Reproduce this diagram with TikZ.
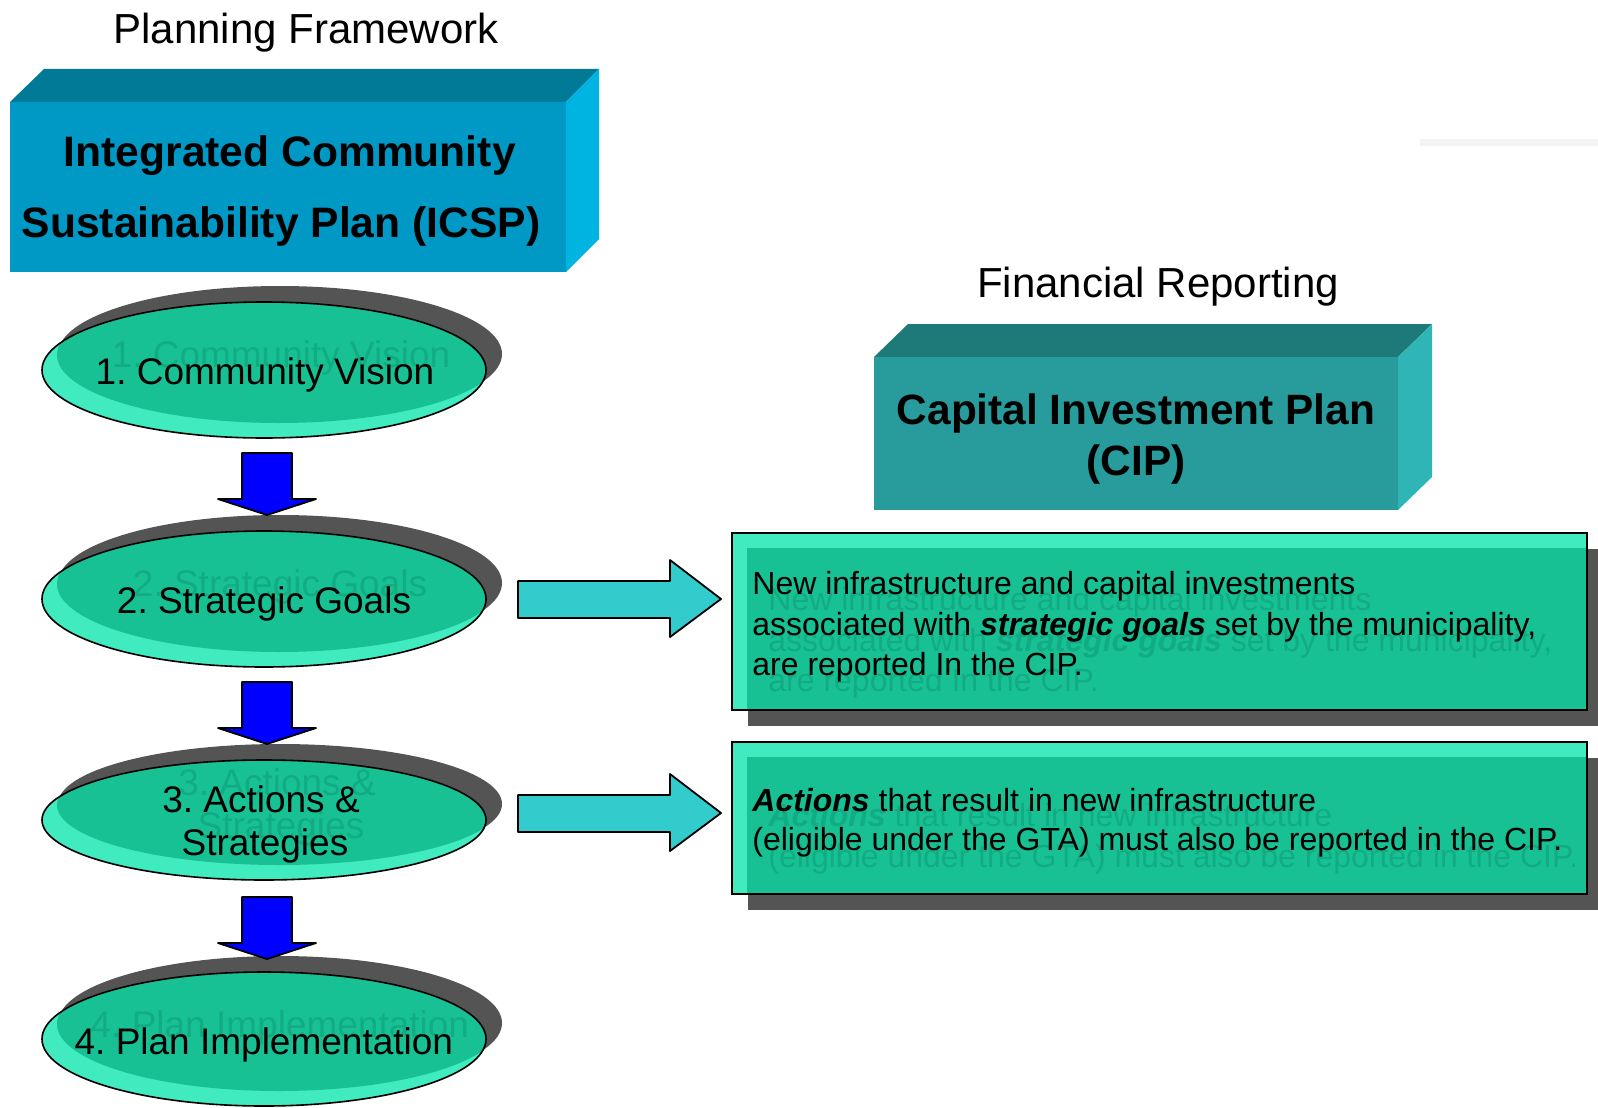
\documentclass[tikz,border=0pt]{standalone}
\usepackage{fontspec}
\setmainfont{Liberation Sans}
\usetikzlibrary{calc}
\usetikzlibrary{positioning}

\definecolor{icspfront}{HTML}{0099C6}
\definecolor{icsptop}{HTML}{007A96}
\definecolor{icspside}{HTML}{00B4E1}
\definecolor{cipfront}{HTML}{289C9C}
\definecolor{ciptop}{HTML}{1E7A78}
\definecolor{cipside}{HTML}{2FB5B5}
\definecolor{mint}{HTML}{40EBC0}
\definecolor{sea}{HTML}{17C193}
\definecolor{ghost}{HTML}{12AC84}
\definecolor{shadowgray}{HTML}{545454}
\definecolor{aqua}{HTML}{33CCCC}
\definecolor{faintline}{HTML}{F3F3F3}

\frenchspacing

\newcommand{\goalstext}{New infrastructure and capital investments\\associated with \textbf{\textit{strategic goals}} set by the municipality,\\are reported In the CIP.}
\newcommand{\actionstext}{\textbf{\textit{Actions}} that result in new infrastructure\\(eligible under the GTA) must also be reported in the CIP.}

\begin{document}
\begin{tikzpicture}[
    x=0.5pt, y=-0.5pt,
    % styles
    title/.style={font=\fontsize{21}{25}\selectfont, inner sep=0pt},
    heading/.style={font=\fontsize{21.3}{35.5}\selectfont\bfseries, align=center, inner sep=0pt},
    stage/.style={font=\fontsize{18.5}{21.5}\selectfont, align=center, inner sep=0pt},
    note/.style={font=\fontsize{16}{20.3}\selectfont, align=left, anchor=west, inner sep=0pt},
    outline/.style={draw=black, line width=0.8pt},
    blockarrow/.style={draw=black, line width=0.9pt, line join=round}]

    \useasboundingbox (0,0) rectangle (1598,1107);

    % titles
    \node [title] (planning) at (306,33) {Planning Framework};
    \node [title] (financial) at (1158,287) {Financial Reporting};
    \fill [faintline] (1420,139) rectangle (1598,146);

    % ICSP block
    \fill [icsptop] (10,102) -- (44,69) -- (599,69) -- (566,102) -- cycle;
    \fill [icspside] (566,102) -- (599,69) -- (599,239) -- (566,272) -- cycle;
    \fill [icspfront] (10,102) rectangle (566,272);
    \node [heading] (icsp) at (281,191)
      {\hspace*{8.7pt}Integrated Community\\Sustainability Plan (ICSP)};

    % CIP block
    \fill [ciptop] (874,357) -- (908,324) -- (1432,324) -- (1398,357) -- cycle;
    \fill [cipside] (1398,357) -- (1432,324) -- (1432,477) -- (1398,510) -- cycle;
    \fill [cipfront] (874,357) rectangle (1398,510);
    \node [heading, font=\fontsize{21.2}{25.5}\selectfont\bfseries] (cip) at (1136,439)
      {Capital Investment Plan\\(CIP)};

    % stages
    \foreach \nm/\cy/\ry/\tx/\ty/\txt in {
      vision/370/68/265/375/{1. Community Vision},
      goals/599/68/264/604/{2. Strategic Goals},
      actions/820/60/261/824/{3. Actions \&\\\hspace*{4pt}Strategies},
      implement/1039/67/269/1045/{4. Plan Implementation}
    } {
      \coordinate (\nm-c) at (264,\cy);
      \fill [shadowgray] ($(\nm-c)+(16,-16)$) ellipse [x radius=111pt, y radius={\ry*0.5pt}];
      \fill [mint] (\nm-c) ellipse [x radius=111pt, y radius={\ry*0.5pt}];
      \begin{scope}
        \clip (\nm-c) ellipse [x radius=111pt, y radius={\ry*0.5pt}];
        \fill [sea] ($(\nm-c)+(15,-15)$) ellipse [x radius=111pt, y radius={\ry*0.5pt}];
      \end{scope}
      \draw [outline] (\nm-c) ellipse [x radius=111pt, y radius={\ry*0.5pt}];
      \node [stage, text=ghost] (\nm-ghost) at ({\tx+16},{\ty-17}) {\txt};
      \node [stage] (\nm) at (\tx,\ty) {\txt};
    }

    % notes
    \foreach \ya/\yb in {533/710, 742/894} {
      \fill [shadowgray] (748,{\ya+16}) rectangle (1598,{\yb+16});
      \fill [mint] (732,\ya) rectangle (1587,\yb);
      \fill [sea] (747,{\ya+15}) rectangle (1587,\yb);
      \draw [outline] (732,\ya) rectangle (1587,\yb);
    }
    \node [note, text=ghost] (goalsnote-ghost) at (768,643) {\goalstext};
    \node [note] (goalsnote) at (752,627) {\goalstext};
    \node [note, text=ghost] (actionsnote-ghost) at (768,839) {\actionstext};
    \node [note, font=\fontsize{16}{19.5}\selectfont] (actionsnote) at (752,823) {\actionstext};

    % arrows down
    \foreach \y in {453, 682, 897} {
      \draw [blockarrow, fill=blue] (242,\y) -- (292,\y) -- (292,{\y+46})
        -- (316,{\y+46}) -- (267,{\y+62}) -- (218,{\y+46}) -- (242,{\y+46}) -- cycle;
    }

    % arrows right
    \foreach \y in {599, 813} {
      \draw [blockarrow, fill=aqua] (518,{\y-18}) -- (670,{\y-18}) -- (670,{\y-39})
        -- (721,\y) -- (670,{\y+38}) -- (670,{\y+19}) -- (518,{\y+19}) -- cycle;
    }

  \end{tikzpicture}
\end{document}
